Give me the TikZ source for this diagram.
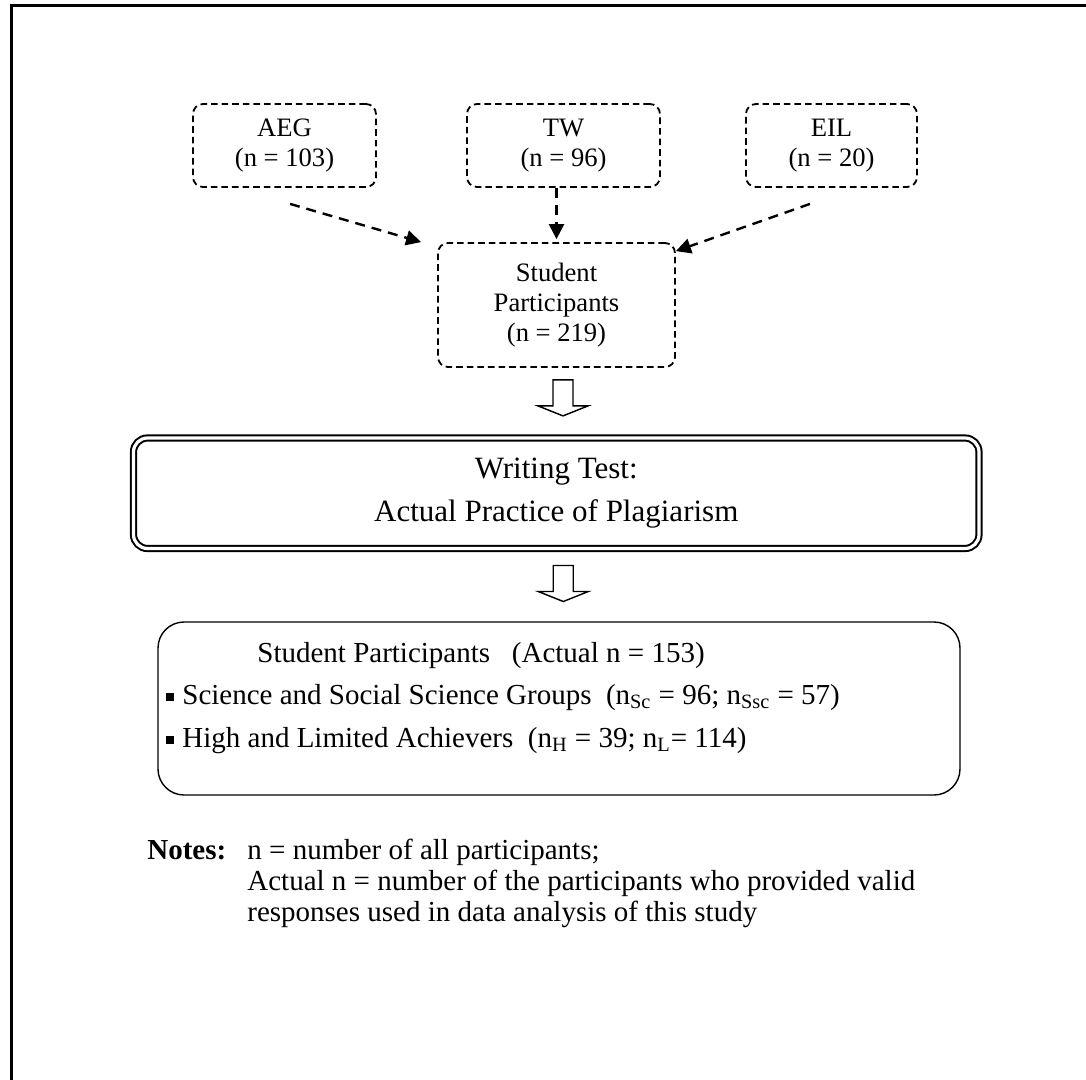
\documentclass[tikz,border=0pt]{standalone}
\usepackage{fontspec}
\setmainfont{Liberation Serif}
\usetikzlibrary{arrows.meta,calc}
\begin{document}
\begin{tikzpicture}[x=0.5pt,y=-0.5pt,
  every node/.style={font=\fontsize{13.3}{15}\selectfont},
  big/.style={font=\fontsize{14.5}{16}\selectfont},
  bigger/.style={font=\fontsize{15.5}{17}\selectfont},
  dbox/.style={draw, line width=0.9pt, dash pattern=on 3.3pt off 2pt,
    rounded corners=5pt, align=center, inner sep=0pt},
  darr/.style={line width=1.2pt, dash pattern=on 5pt off 3.5pt,
    -{Triangle[length=7.5pt,width=7.5pt]}},
  frameline/.style={line width=1.3pt},
  testbox/.style={draw, double, line width=1pt, double distance=1.6pt,
    rounded corners=7pt, align=center, inner sep=0pt},
  resbox/.style={draw, line width=0.7pt, rounded corners=13pt, inner sep=0pt},
  txt/.style={big, anchor=base west, inner sep=0pt},
  bul/.style={fill, inner sep=0pt, minimum size=3.6pt},
  hollowarrow/.pic={
    \draw[line width=0.7pt, line join=miter]
      (-10,0) -- (-10,26) -- (-25,26) -- (0,36) -- (25,26) -- (10,26) -- (10,0) -- cycle;
  }]
\useasboundingbox (0,0) rectangle (1086,1080);

% page frame (open at the right and the bottom)
\draw[frameline] (11.3,1090) -- (11.3,5.5) -- (1095,5.5);

% course groups
\node[dbox, minimum width=91.5pt, minimum height=41.5pt] (aeg) at (284.5,145.5) {AEG\\(n = 103)};
\node[dbox, minimum width=96.5pt, minimum height=41.5pt] (tw) at (563.5,145.5) {TW\\(n = 96)};
\node[dbox, minimum width=85.5pt, minimum height=41.5pt] (eil) at (831.5,145.5) {EIL\\(n = 20)};

% all participants
\node[dbox, minimum width=118.5pt, minimum height=62pt] (sp) at (556.5,305)
  {Student\\Participants\\(n = 219)};

\draw[darr] ($(aeg.south)+(5.5,16)$) -- ($(sp.north west)+(-16,0)$);
\draw[darr] (tw.south -| sp.north) -- ($(sp.north)+(0,-3)$);
\draw[darr] ($(eil.south)+(-21.5,16)$) -- ($(sp.north east)+(0,9)$);

% writing test
\node[testbox, bigger, minimum width=422.75pt, minimum height=55.25pt] (wt) at (556.25,493.25)
  {Writing Test:\\[4.5pt]Actual Practice of Plagiarism};

% valid responses
\node[resbox, minimum width=401pt, minimum height=86.5pt] (res) at (559,708.5) {};

\pic at ($(sp.south)+(6.5,12)$) {hollowarrow};
\pic at ($(wt.south)+(7,16)$) {hollowarrow};

\node[txt] (r0) at (257,662) {Student Participants\ \ \ (Actual n = 153)};
\node[bul] (b1) at (170,697) {};
\node[txt] (r1) at (182,704) {Science and Social Science Groups\ \ (n\textsubscript{Sc} = 96; n\textsubscript{Ssc} = 57)};
\node[bul] (b2) at (170,740) {};
\node[txt] (r2) at (182,747) {High and Limited Achievers\ \ (n\textsubscript{H} = 39; n\textsubscript{L}= 114)};

% notes
\node[txt] (nl) at (147,859) {\textbf{Notes:}};
\node[txt] (n1) at (247,859) {n = number of all participants;};
\node[txt] (n2) at (247,890) {Actual n = number of the participants who provided valid};
\node[txt] (n3) at (247,921) {responses used in data analysis of this study};
\end{tikzpicture}
\end{document}
